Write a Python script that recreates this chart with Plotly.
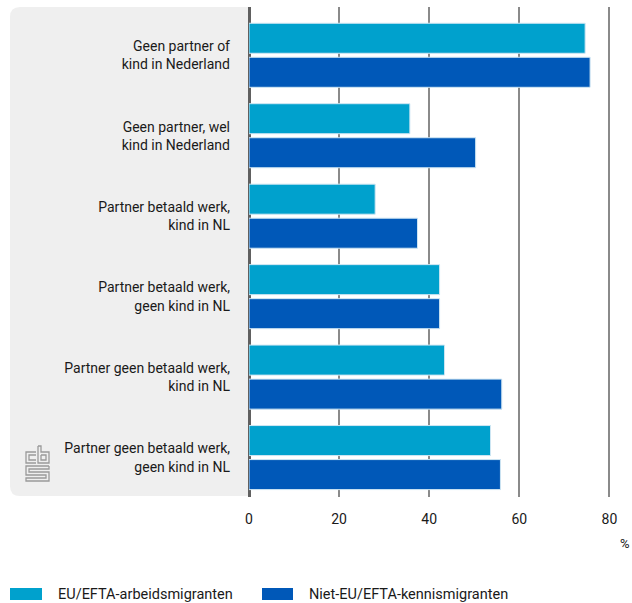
import plotly.graph_objects as go

categories = [
    "Geen partner of<br>kind in Nederland",
    "Geen partner, wel<br>kind in Nederland",
    "Partner betaald werk,<br>kind in NL",
    "Partner betaald werk,<br>geen kind in NL",
    "Partner geen betaald werk,<br>kind in NL",
    "Partner geen betaald werk,<br>geen kind in NL",
]
series_names = ["EU/EFTA-arbeidsmigranten", "Niet-EU/EFTA-kennismigranten"]
eu_values = [74.6, 35.7, 28.0, 42.3, 43.4, 53.6]
non_eu_values = [75.7, 50.3, 37.4, 42.3, 56.1, 55.8]
x_ticks = [0, 20, 40, 60, 80]
x_unit = "%"

colors = ["#00A1CD", "#0058B8"]

W, H = 632, 603
L, R, T, B = 249, 0, 7, 106
PW, PH = W - L - R, H - T - B


def px(x):
    return (x - L) / PW


def py(y):
    return (H - B - y) / PH


fig = go.Figure()
for name, vals, col in zip(series_names, [eu_values, non_eu_values], colors):
    fig.add_trace(go.Bar(
        y=categories, x=vals, name=name, orientation="h",
        marker=dict(color=col, line=dict(color="#cfe6f3", width=1)),
        showlegend=False,
    ))

shapes = []
# grey label panel with rounded left corners
r_x, r_y = 10 / PW, 10 / PH
x0 = px(10)
y0, y1 = py(496), py(7)
shapes.append(dict(
    type="path", xref="paper", yref="paper", layer="below",
    path=(f"M 0,{y0} L {x0 + r_x},{y0} Q {x0},{y0} {x0},{y0 + r_y} "
          f"L {x0},{y1 - r_y} Q {x0},{y1} {x0 + r_x},{y1} L 0,{y1} Z"),
    fillcolor="#efefef", line=dict(width=0),
))


def pp(points):
    return "M " + " L ".join(f"{px(a)},{py(b)}" for a, b in points)


logo_col = "#9a9a9a"
logo_paths = [
    [(36, 452), (26, 452), (26, 463), (36, 463)],
    [(36, 455), (29, 455), (29, 460), (36, 460)],
    [(38, 446), (38, 463), (49, 463), (49, 452), (41, 452), (41, 446), (38, 446)],
    [(41, 455), (46, 455), (46, 460), (41, 460), (41, 455)],
    [(49, 466), (26, 466), (26, 475), (46, 475), (46, 478), (26, 478), (26, 481), (49, 481), (49, 472), (29, 472), (29, 469), (49, 469), (49, 466)],
]
for p in logo_paths:
    shapes.append(dict(type="path", xref="paper", yref="paper", path=pp(p),
                       line=dict(color=logo_col, width=1.3)))

annotations = []
# manual legend
leg_x = [(10, 42, 56), (262, 293, 307)]
for (sx0, sx1, tx), name, col in zip(leg_x, series_names, colors):
    shapes.append(dict(type="rect", xref="paper", yref="paper",
                       x0=px(sx0), x1=px(sx1), y0=py(600), y1=py(588),
                       fillcolor=col, line=dict(width=0)))
    annotations.append(dict(xref="paper", yref="paper", x=px(tx), y=py(594),
                            text=name, showarrow=False, xanchor="left",
                            yanchor="middle", font=dict(size=14.5, color="#1a1a1a")))

annotations.append(dict(xref="paper", yref="paper", x=1, y=py(543),
                        text=x_unit, showarrow=False, xanchor="right",
                        yanchor="middle", font=dict(size=13, color="#1a1a1a")))

fig.update_layout(
    width=W, height=H,
    margin=dict(l=L, r=R, t=T, b=B, pad=0),
    paper_bgcolor="white", plot_bgcolor="white",
    barmode="group", bargap=0.154, bargroupgap=0.118,
    font=dict(family="Roboto, sans-serif", size=14, color="#1a1a1a"),
    shapes=shapes, annotations=annotations,
    xaxis=dict(range=[0, 85], tickvals=x_ticks, showgrid=True,
               gridcolor="#8a8a8a", gridwidth=1.5, zeroline=True,
               zerolinecolor="#606060", zerolinewidth=3,
               ticks="", ticklabelstandoff=12, showline=False,
               tickfont=dict(size=14)),
    yaxis=dict(range=[5.49, -0.6], ticks="", showgrid=False,
               ticklabelstandoff=18, showline=False, zeroline=False,
               tickfont=dict(size=14)),
)

fig.write_html("out.html", config={"displayModeBar": False},
               post_script="document.body.style.margin='0';")
